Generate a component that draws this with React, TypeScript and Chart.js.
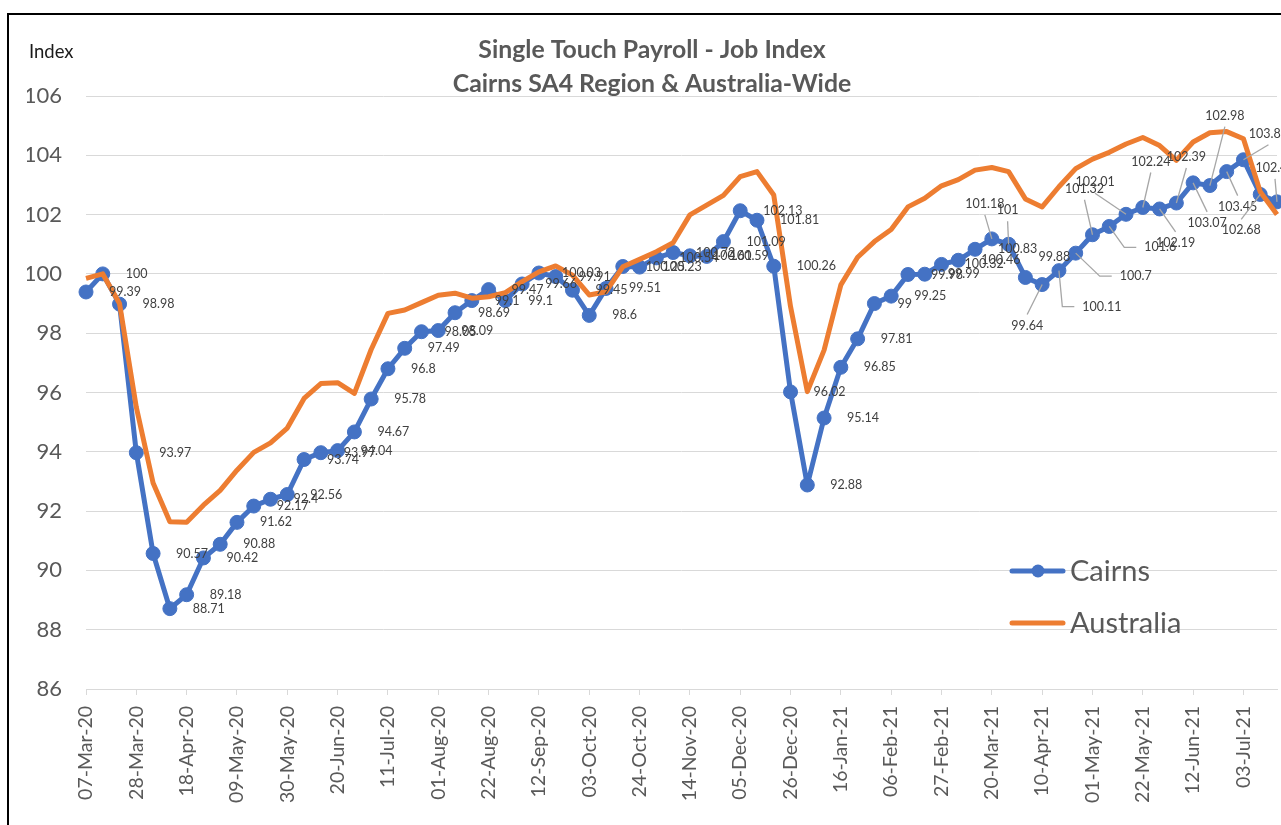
import React, { useEffect, useRef } from 'react';
import { Chart, registerables } from 'chart.js';

Chart.register(...registerables);

const categories = [
  '07-Mar-20', '14-Mar-20', '21-Mar-20', '28-Mar-20', '04-Apr-20', '11-Apr-20', '18-Apr-20', '25-Apr-20',
  '02-May-20', '09-May-20', '16-May-20', '23-May-20', '30-May-20', '06-Jun-20', '13-Jun-20', '20-Jun-20',
  '27-Jun-20', '04-Jul-20', '11-Jul-20', '18-Jul-20', '25-Jul-20', '01-Aug-20', '08-Aug-20', '15-Aug-20',
  '22-Aug-20', '29-Aug-20', '05-Sep-20', '12-Sep-20', '19-Sep-20', '26-Sep-20', '03-Oct-20', '10-Oct-20',
  '17-Oct-20', '24-Oct-20', '31-Oct-20', '07-Nov-20', '14-Nov-20', '21-Nov-20', '28-Nov-20', '05-Dec-20',
  '12-Dec-20', '19-Dec-20', '26-Dec-20', '02-Jan-21', '09-Jan-21', '16-Jan-21', '23-Jan-21', '30-Jan-21',
  '06-Feb-21', '13-Feb-21', '20-Feb-21', '27-Feb-21', '06-Mar-21', '13-Mar-21', '20-Mar-21', '27-Mar-21',
  '03-Apr-21', '10-Apr-21', '17-Apr-21', '24-Apr-21', '01-May-21', '08-May-21', '15-May-21', '22-May-21',
  '29-May-21', '05-Jun-21', '12-Jun-21', '19-Jun-21', '26-Jun-21', '03-Jul-21', '10-Jul-21', '17-Jul-21',
];

const cairns = [
  99.39, 100, 98.98, 93.97, 90.57, 88.71, 89.18, 90.42,
  90.88, 91.62, 92.17, 92.4, 92.56, 93.74, 93.97, 94.04,
  94.67, 95.78, 96.8, 97.49, 98.05, 98.09, 98.69, 99.1,
  99.47, 99.1, 99.66, 100.03, 99.91, 99.45, 98.6, 99.51,
  100.25, 100.23, 100.54, 100.72, 100.61, 100.59, 101.09, 102.13,
  101.81, 100.26, 96.02, 92.88, 95.14, 96.85, 97.81, 99,
  99.25, 99.98, 99.99, 100.32, 100.46, 100.83, 101.18, 101,
  99.88, 99.64, 100.11, 100.7, 101.32, 101.6, 102.01, 102.24,
  102.19, 102.39, 103.07, 102.98, 103.45, 103.85, 102.68, 102.43,
];

const australia = [
  99.85, 100.0, 99.0, 95.5, 92.95, 91.64, 91.62, 92.2,
  92.7, 93.38, 93.98, 94.3, 94.8, 95.8, 96.3, 96.33,
  95.97, 97.45, 98.67, 98.78, 99.03, 99.28, 99.35, 99.18,
  99.23, 99.37, 99.74, 100.07, 100.27, 99.96, 99.29, 99.4,
  100.24, 100.49, 100.75, 101.05, 101.99, 102.32, 102.65, 103.28,
  103.45, 102.66, 98.9, 96.03, 97.43, 99.63, 100.56, 101.09,
  101.5, 102.26, 102.55, 102.97, 103.18, 103.5, 103.59, 103.45,
  102.53, 102.26, 102.94, 103.55, 103.87, 104.1, 104.38, 104.6,
  104.33, 103.83, 104.45, 104.76, 104.8, 104.56, 102.77, 102.0,
];

const seriesNames = ['Cairns', 'Australia'];
const titleLines = ['Single Touch Payroll - Job Index', 'Cairns SA4 Region & Australia-Wide'];
const yAxisLabel = 'Index';
const yMin = 86;
const yMax = 106;
const yStep = 2;
const xLabelEvery = 3;

// Cairns data-label placement overrides: point index -> [dx, dy, leader]
// (label centre offset from its point; leader 0 = none, 1 = vertical, 2 = side stub)
const labelMoves: Record<number, [number, number, number]> = {
  54: [-7, -35, 1],
  55: [-1, -34, 1],
  56: [29, -20, 0],
  57: [-15, 41, 1],
  58: [43, 36, 2],
  59: [60, 23, 2],
  60: [-8, -46, 1],
  61: [51, 21, 2],
  62: [-31, -32, 1],
  63: [8, -46, 1],
  64: [16, 34, 1],
  65: [10, -46, 1],
  66: [14, 40, 1],
  67: [15, -70, 1],
  68: [11, 35, 1],
  69: [25, -26, 1],
  70: [-19, 36, 1],
  71: [-2, -34, 1],
};

const BLUE = '#4472C4';
const ORANGE = '#ED7D31';
const GRID = '#D9D9D9';
const TEXT = '#595959';
const FONT = 'Lato';

const dataLabelPlugin = {
  id: 'cairnsDataLabels',
  afterDatasetsDraw(chart: any) {
    const meta = chart.getDatasetMeta(0);
    const values = chart.data.datasets[0].data as number[];
    const ctx = chart.ctx as CanvasRenderingContext2D;
    ctx.save();
    ctx.font = `12.5px ${FONT}`;
    ctx.textBaseline = 'middle';
    ctx.textAlign = 'center';
    meta.data.forEach((pt: any, i: number) => {
      const text = String(values[i]);
      const w = ctx.measureText(text).width;
      const mv = labelMoves[i];
      let cx: number;
      let cy: number;
      if (mv) {
        cx = pt.x + mv[0];
        cy = pt.y + mv[1];
        if (mv[2] === 1) {
          const sy = pt.y > cy ? cy + 11 : cy - 11;
          ctx.strokeStyle = '#A6A6A6';
          ctx.lineWidth = 1.3;
          ctx.beginPath();
          ctx.moveTo(cx, sy);
          ctx.lineTo(pt.x, pt.y);
          ctx.stroke();
        } else if (mv[2] === 2) {
          const side = pt.x < cx ? -1 : 1;
          const sx = cx + side * (w / 2 + 8);
          ctx.strokeStyle = '#A6A6A6';
          ctx.lineWidth = 1.3;
          ctx.beginPath();
          ctx.moveTo(sx, cy);
          ctx.lineTo(sx + side * 12, cy);
          ctx.lineTo(pt.x, pt.y);
          ctx.stroke();
        }
      } else {
        cx = pt.x + 23 + w / 2;
        cy = pt.y;
      }
      ctx.fillStyle = '#404040';
      ctx.fillText(text, cx, cy);
    });
    ctx.restore();
  },
};

const axisNamePlugin = {
  id: 'axisName',
  afterDraw(chart: any) {
    const { ctx, chartArea } = chart;
    ctx.save();
    ctx.font = `18.5px ${FONT}`;
    ctx.fillStyle = '#1a1a1a';
    ctx.textAlign = 'left';
    ctx.textBaseline = 'middle';
    ctx.fillText(yAxisLabel, chartArea.left - 57, chartArea.top - 44);
    ctx.restore();
  },
};

const insideLegendPlugin = {
  id: 'insideLegend',
  afterDraw(chart: any) {
    const { ctx, chartArea } = chart;
    const x0 = chartArea.right - 267;
    const rows = [chartArea.bottom - 118, chartArea.bottom - 66];
    ctx.save();
    chart.data.datasets.forEach((ds: any, i: number) => {
      const y = rows[i];
      ctx.strokeStyle = ds.borderColor;
      ctx.lineWidth = 5;
      ctx.lineCap = 'round';
      ctx.beginPath();
      ctx.moveTo(x0 + 2, y);
      ctx.lineTo(x0 + 53, y);
      ctx.stroke();
      if (ds.pointRadius > 0) {
        ctx.fillStyle = ds.borderColor;
        ctx.beginPath();
        ctx.arc(x0 + 28, y, 6.5, 0, Math.PI * 2);
        ctx.fill();
      }
      ctx.font = `29px ${FONT}`;
      ctx.fillStyle = TEXT;
      ctx.textAlign = 'left';
      ctx.textBaseline = 'middle';
      ctx.fillText(ds.label, x0 + 60, y + 1);
    });
    ctx.restore();
  },
};

export default function App() {
  const ref = useRef<HTMLCanvasElement>(null);

  useEffect(() => {
    if (!ref.current) return;
    const chart = new Chart(ref.current, {
      type: 'line',
      data: {
        labels: categories,
        datasets: [
          {
            label: seriesNames[0],
            data: cairns,
            borderColor: BLUE,
            backgroundColor: BLUE,
            borderWidth: 5,
            pointRadius: 7,
            pointBorderWidth: 1,
            pointBackgroundColor: BLUE,
            pointBorderColor: BLUE,
            borderJoinStyle: 'round',
            tension: 0,
            order: 1,
          },
          {
            label: seriesNames[1],
            data: australia,
            borderColor: ORANGE,
            backgroundColor: ORANGE,
            borderWidth: 5,
            pointRadius: 0,
            borderJoinStyle: 'round',
            tension: 0,
            order: 0,
          },
        ],
      },
      options: {
        responsive: false,
        animation: false,
        events: [],
        layout: { padding: { left: 18, right: 22, top: 0, bottom: 0 } },
        plugins: {
          legend: { display: false },
          tooltip: { enabled: false },
          title: {
            display: true,
            text: titleLines,
            color: TEXT,
            font: { family: FONT, size: 24.8, weight: 'bold', lineHeight: '34px' },
            padding: { top: 18, bottom: -5 },
          },
        },
        scales: {
          x: {
            type: 'category',
            offset: false,
            grid: { drawOnChartArea: false, drawTicks: true, tickLength: 6, color: GRID, lineWidth: 1 },
            border: { display: true, color: GRID, width: 1 },
            ticks: {
              autoSkip: false,
              minRotation: 90,
              maxRotation: 90,
              padding: 11,
              color: TEXT,
              font: { family: FONT, size: 19.5 },
              callback: (_v: any, i: number) => (i % xLabelEvery === 0 ? categories[i] : null),
            },
            afterFit: (s: any) => {
              s.height = 155;
            },
          },
          y: {
            min: yMin,
            max: yMax,
            ticks: { stepSize: yStep, color: TEXT, font: { family: FONT, size: 22 }, padding: 24 },
            grid: { color: GRID, drawTicks: false, lineWidth: 1 },
            border: { display: false },
            afterFit: (s: any) => {
              s.width = 59;
            },
          },
        },
      },
      plugins: [dataLabelPlugin, axisNamePlugin, insideLegendPlugin],
    } as any);
    return () => chart.destroy();
  }, []);

  return (
    <div style={{ position: 'fixed', left: 0, top: 0, width: 1281, height: 825, overflow: 'hidden', background: '#fff' }}>
      <div
        style={{
          position: 'absolute',
          left: 7,
          top: 13,
          width: 1310,
          height: 840,
          border: '2px solid #000',
          boxSizing: 'border-box',
        }}
      />
      <canvas
        ref={ref}
        width={1290}
        height={829}
        style={{ position: 'absolute', left: 9, top: 15, width: 1290, height: 829 }}
      />
    </div>
  );
}
